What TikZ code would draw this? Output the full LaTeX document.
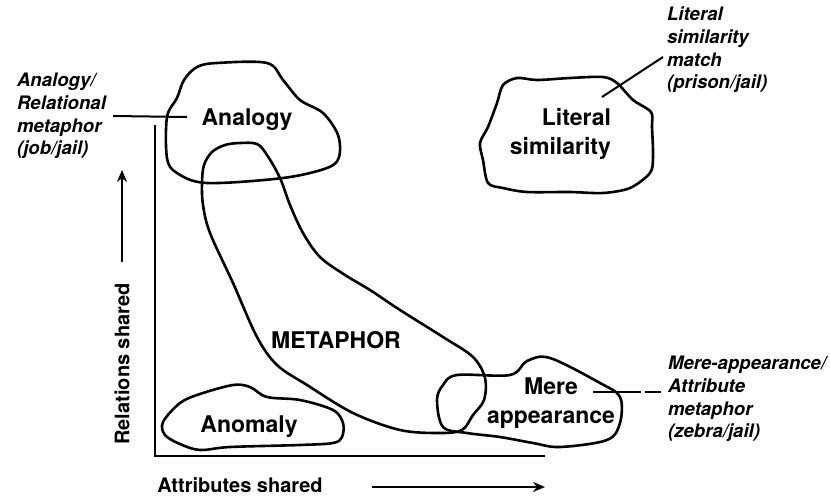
\documentclass[tikz,border=0pt]{standalone}
\usepackage{fontspec}
\setmainfont{TeX Gyre Heros}
\usepackage{tikz}
\usetikzlibrary{arrows.meta,calc,positioning}

\begin{document}
\begin{tikzpicture}[x=0.5pt,y=-0.5pt,>={Stealth[length=6pt,width=5pt]},
    blob/.style={line width=1.3pt,line join=round},
    lbl/.style={font=\fontsize{11.5}{14.5}\selectfont\bfseries,align=center},
    note/.style={font=\fontsize{9.3}{11.3}\selectfont\bfseries\itshape,align=left,anchor=west},
    axlbl/.style={font=\fontsize{10}{12}\selectfont\bfseries}]
  \useasboundingbox (0,0) rectangle (830,498);
  % the axes of the similarity space
  \coordinate (ytop) at (155,125);
  \coordinate (origin) at (155,456);
  \coordinate (xend) at (545,456);
  \draw[line width=1.2pt] (ytop) -- (origin) -- (xend);
  \node[axlbl,rotate=90] (rel) at (122,364) {Relations shared};
  \node[axlbl] (attr) at (240,485) {Attributes shared};
  \coordinate (relfrom) at (122,262);
  \coordinate (relto) at (122,170);
  \coordinate (attrfrom) at (372,487);
  \coordinate (attrto) at (545,487);
  \draw[->,line width=1pt] (relfrom) -- (relto);
  \draw[->,line width=1pt] (attrfrom) -- (attrto);
  % the regions, drawn as freehand outlines
  \draw[blob] plot[smooth cycle,tension=0.55] coordinates {(167,117) (177,98) (184,80) (197,67) (217,63) (267,63)
    (283,80) (300,100) (323,113) (338,135) (339,157) (327,168) (283,178) (207,183) (177,173) (167,158)};
  \draw[blob] plot[smooth cycle,tension=0.55] coordinates {(202,183) (204,165) (212,152) (225,145) (240,143) (257,144)
    (267,155) (280,178) (290,205) (303,233) (320,257) (345,275) (370,290) (400,310) (443,337) (473,357) (485,378)
    (484,400) (473,415) (462,430) (440,433) (400,430) (353,413) (307,385) (277,365) (257,337) (233,283) (210,233) (203,205)};
  \draw[blob] plot[smooth cycle,tension=0.5] coordinates {(503,85) (517,78) (537,80) (570,78) (603,77) (617,83)
    (633,100) (651,112) (652,127) (653,157) (650,173) (630,188) (603,193) (570,192) (527,192) (503,188) (488,183)
    (483,160) (480,143) (488,127) (497,103)};
  \draw[blob] plot[smooth cycle,tension=0.55] coordinates {(457,375) (510,375) (527,361) (550,358) (600,383)
    (620,397) (620,423) (607,440) (560,447) (533,443) (500,437) (467,433) (443,427) (437,400) (443,385)};
  \draw[blob] plot[smooth cycle,tension=0.55] coordinates {(163,422) (180,403) (200,394) (233,385) (250,387)
    (267,397) (300,400) (333,410) (343,423) (342,437) (333,443) (300,445) (230,447) (200,450) (180,444) (165,435)};
  % region names
  \node[lbl] (analogy) at (247,120) {Analogy};
  \node[lbl,align=right,anchor=east] (litsim) at (618,134) {Literal\\similarity};
  \node[lbl] (metaphor) at (336,340) {METAPHOR};
  \node[lbl] (mere) at (551,403) {Mere\\appearance};
  \node[lbl] (anomaly) at (249,427) {Anomaly};
  % notes with leader lines
  \node[note] (annote) at (10,116) {Analogy/\\Relational\\metaphor\\(job/jail)};
  \node[note] (litnote) at (660,50) {Literal\\similarity\\match\\(prison/jail)};
  \node[note] (merenote) at (661,399) {Mere-appearance/\\Attribute\\metaphor\\(zebra/jail)};
  \coordinate (anpt) at (187,117);
  \coordinate (litpt) at (602,97);
  \coordinate (litend) at (663,57);
  \coordinate (merept) at (593,392);
  \draw[line width=1pt] (annote.east) -- (anpt);
  \draw[line width=1pt] (litpt) -- (litend);
  \draw[line width=1pt,dash pattern=on 24pt off 2pt] (merept) -- (merept -| merenote.west);
\end{tikzpicture}
\end{document}
